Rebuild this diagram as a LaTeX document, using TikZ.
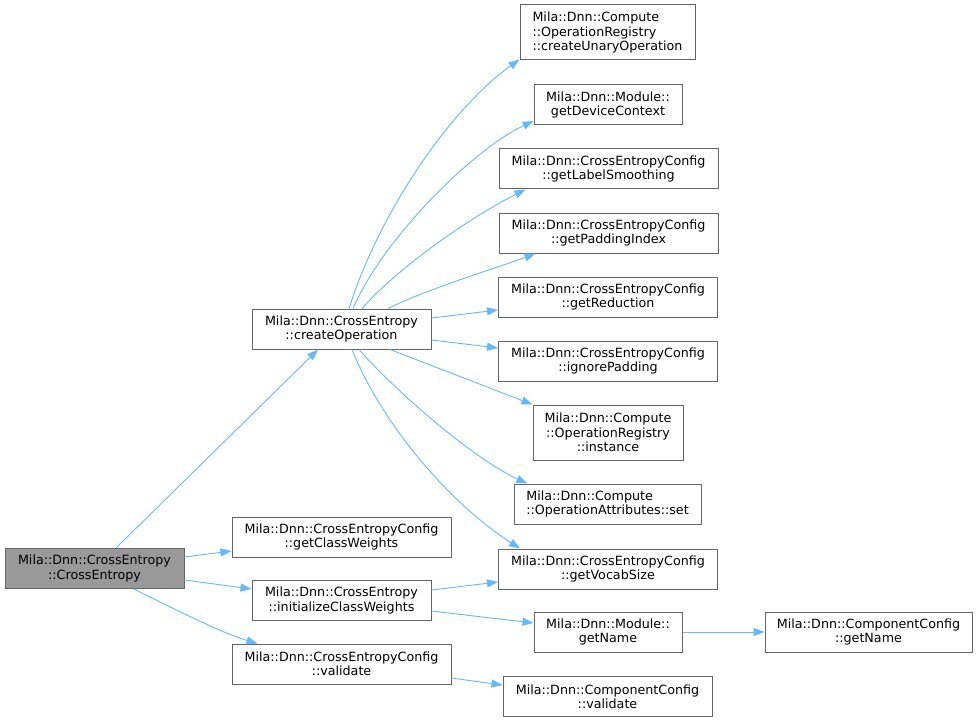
\documentclass[tikz,border=0pt]{standalone}
\usepackage{fontspec}
\setmainfont{DejaVu Sans}
\usetikzlibrary{arrows.meta}
\definecolor{edgeblue}{HTML}{63B8FF}
\definecolor{boxgray}{HTML}{666666}
\definecolor{mainfill}{HTML}{999999}

\begin{document}
\begin{tikzpicture}[x=1pt,y=-1pt,
    fn/.style={draw=boxgray,fill=white,rectangle,inner sep=0pt,minimum height=40pt,
      align=center,font=\fontsize{12.7}{14.3}\selectfont,line width=1pt},
    call/.style={draw=edgeblue,line width=0.9pt,-{Triangle[length=11pt,width=8pt]}}]
  \useasboundingbox (0,0) rectangle (979,722);
  \node[fn,fill=mainfill,minimum width=179pt] (ce) at (94.5,568.5) {Mila::Dnn::CrossEntropy\\::CrossEntropy};
  \node[fn,minimum width=179pt] (createOp) at (341.5,329) {Mila::Dnn::CrossEntropy\\::createOperation};
  \node[fn,minimum width=219pt] (classW) at (341.5,537) {Mila::Dnn::CrossEntropyConfig\\::getClassWeights};
  \node[fn,minimum width=179pt] (initCW) at (341.5,600.5) {Mila::Dnn::CrossEntropy\\::initializeClassWeights};
  \node[fn,minimum width=219pt] (cecValidate) at (341.5,664) {Mila::Dnn::CrossEntropyConfig\\::validate};
  \node[fn,align=left,minimum width=175pt,minimum height=55pt] (unary) at (607.5,32.5) {Mila::Dnn::Compute\\::OperationRegistry\\::createUnaryOperation};
  \node[fn,minimum width=148pt] (devCtx) at (608,105) {Mila::Dnn::Module::\\getDeviceContext};
  \node[fn,minimum width=219pt] (labelS) at (608.5,169) {Mila::Dnn::CrossEntropyConfig\\::getLabelSmoothing};
  \node[fn,minimum width=219pt] (padIdx) at (608.5,233) {Mila::Dnn::CrossEntropyConfig\\::getPaddingIndex};
  \node[fn,minimum width=219pt] (reduct) at (608,297) {Mila::Dnn::CrossEntropyConfig\\::getReduction};
  \node[fn,minimum width=219pt] (ignPad) at (608,361) {Mila::Dnn::CrossEntropyConfig\\::ignorePadding};
  \node[fn,minimum width=150pt,minimum height=55pt] (inst) at (608,432.5) {Mila::Dnn::Compute\\::OperationRegistry\\::instance};
  \node[fn,align=left,minimum width=187pt] (attrSet) at (607.5,504) {Mila::Dnn::Compute\\::OperationAttributes::set};
  \node[fn,minimum width=219pt] (vocab) at (608,569) {Mila::Dnn::CrossEntropyConfig\\::getVocabSize};
  \node[fn,minimum width=148pt] (modName) at (608,632) {Mila::Dnn::Module::\\getName};
  \node[fn,minimum width=207pt] (ccName) at (868.5,632) {Mila::Dnn::ComponentConfig\\::getName};
  \node[fn,minimum width=209pt] (ccValidate) at (607.5,696.5) {Mila::Dnn::ComponentConfig\\::validate};

  \draw[call] ([xshift=21.5pt]ce.north) -- ([xshift=-23.5pt]createOp.south);
  \draw[call] ([yshift=11.5pt]ce.east) -- ([yshift=-14pt]classW.west);
  \draw[call] ([yshift=-11.5pt]ce.east) -- ([yshift=11.5pt]initCW.west);
  \draw[call] ([xshift=39.5pt]ce.south) .. controls +(30,15) and +(-35,-10) .. ([xshift=26pt]cecValidate.north west);
  \draw[call] ([xshift=7.5pt]createOp.north) .. controls +(30,-95) and +(-70,50) .. ([yshift=1pt]unary.south west);
  \draw[call] ([xshift=11.5pt]createOp.north) .. controls +(30,-70) and +(-60,28) .. ([yshift=-16pt]devCtx.west);
  \draw[call] ([xshift=20.5pt]createOp.north) .. controls +(40,-45) and +(-50,25) .. ([xshift=27pt]labelS.south west);
  \draw[call] ([xshift=46.5pt]createOp.north) .. controls +(40,-20) and +(-40,15) .. ([xshift=37pt]padIdx.south west);
  \draw[call] ([yshift=11pt]createOp.east) -- ([yshift=-13pt]reduct.west);
  \draw[call] ([yshift=-11pt]createOp.east) -- ([yshift=13pt]ignPad.west);
  \draw[call] ([xshift=48.5pt]createOp.south) -- (inst.north west);
  \draw[call] ([xshift=17.5pt]createOp.south) .. controls +(35,40) and +(-55,-25) .. ([xshift=14pt]attrSet.north west);
  \draw[call] ([xshift=10.5pt]createOp.south) .. controls +(30,75) and +(-70,-45) .. ([xshift=22pt]vocab.north west);
  \draw[call] ([yshift=10.5pt]initCW.east) -- ([yshift=-13pt]vocab.west);
  \draw[call] ([yshift=-10.5pt]initCW.east) -- ([yshift=9pt]modName.west);
  \draw[call] (modName.east) -- (ccName.west);
  \draw[call] ([yshift=-14pt]cecValidate.east) -- ([yshift=11.5pt]ccValidate.west);
\end{tikzpicture}
\end{document}
